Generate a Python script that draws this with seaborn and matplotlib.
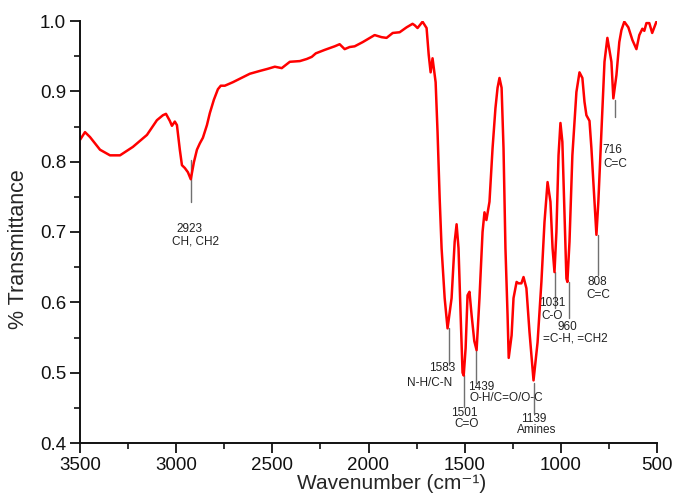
import matplotlib
matplotlib.use("Agg")
import matplotlib.pyplot as plt
from matplotlib.ticker import MultipleLocator
import seaborn as sns
import pandas as pd

# ---- data ----
wavenumber = [3500, 3474, 3448, 3396, 3344, 3292, 3225, 3152, 3100, 3069, 3053, 3033,
              3022, 3007, 2996, 2981, 2970, 2955, 2939, 2924, 2908, 2892, 2877, 2861,
              2840, 2825, 2804, 2783, 2768, 2747, 2705, 2617, 2565, 2524, 2487, 2451,
              2409, 2357, 2321, 2295, 2274, 2227, 2176, 2150, 2124, 2098, 2072, 2030,
              1968, 1932, 1906, 1874, 1838, 1802, 1771, 1760, 1745, 1719, 1698, 1687,
              1677, 1667, 1651, 1641, 1630, 1620, 1604, 1589, 1568, 1552, 1542, 1532,
              1521, 1511, 1505, 1495, 1485, 1475, 1464, 1450, 1438, 1423, 1407, 1397,
              1387, 1371, 1355, 1340, 1329, 1319, 1308, 1298, 1288, 1277, 1271, 1256,
              1246, 1230, 1220, 1205, 1194, 1179, 1163, 1142, 1121, 1101, 1085, 1069,
              1054, 1043, 1033, 1023, 1012, 1002, 992, 981, 971, 966, 955, 940, 919,
              903, 888, 877, 867, 851, 841, 825, 815, 805, 789, 773, 758, 737, 727,
              711, 696, 685, 670, 649, 628, 607, 592, 576, 566, 555, 540, 525, 514, 503]
transmittance = [0.831, 0.842, 0.835, 0.817, 0.809, 0.809, 0.821, 0.838, 0.859, 0.866,
                 0.868, 0.858, 0.851, 0.857, 0.852, 0.817, 0.795, 0.791, 0.785, 0.775,
                 0.799, 0.817, 0.826, 0.834, 0.852, 0.869, 0.888, 0.903, 0.908, 0.908,
                 0.913, 0.925, 0.929, 0.932, 0.935, 0.933, 0.942, 0.943, 0.946, 0.949,
                 0.954, 0.959, 0.964, 0.967, 0.960, 0.963, 0.964, 0.970, 0.980, 0.977,
                 0.976, 0.983, 0.984, 0.991, 0.996, 0.994, 0.990, 0.999, 0.990, 0.952,
                 0.927, 0.947, 0.913, 0.842, 0.748, 0.677, 0.606, 0.563, 0.606, 0.686,
                 0.711, 0.677, 0.582, 0.500, 0.496, 0.535, 0.610, 0.615, 0.582, 0.545,
                 0.532, 0.606, 0.700, 0.728, 0.717, 0.743, 0.819, 0.876, 0.905, 0.919,
                 0.905, 0.819, 0.677, 0.582, 0.521, 0.553, 0.606, 0.629, 0.627, 0.627,
                 0.636, 0.620, 0.558, 0.489, 0.543, 0.629, 0.714, 0.771, 0.743, 0.677,
                 0.643, 0.700, 0.809, 0.855, 0.828, 0.724, 0.634, 0.629, 0.686, 0.809,
                 0.899, 0.927, 0.919, 0.885, 0.866, 0.858, 0.819, 0.743, 0.696, 0.743,
                 0.842, 0.942, 0.976, 0.942, 0.890, 0.923, 0.970, 0.987, 0.999, 0.991,
                 0.973, 0.960, 0.980, 0.989, 0.986, 0.997, 0.997, 0.983, 0.991, 0.999]

peak_labels = ["2923", "1583", "1501", "1439", "1139", "1031", "960", "808", "716"]
peak_groups = ["CH, CH2", "N-H/C-N", "C=O", "O-H/C=O/O-C", "Amines", "C-O",
               "=C-H, =CH2", "C=C", "C=C"]
peak_positions = [2923, 1583, 1501, 1439, 1139, 1031, 960, 808, 716]

# ---- layout of the annotations (line top/bottom, text positions) ----
line_top = [0.802, 0.563, 0.496, 0.532, 0.486, 0.643, 0.629, 0.696, 0.888]
line_bot = [0.743, 0.511, 0.451, 0.485, 0.442, 0.592, 0.578, 0.639, 0.863]
num_xy = [(2929, 0.704), (1615, 0.506), (1500, 0.442), (1412, 0.479), (1142, 0.434),
          (1044, 0.599), (966, 0.565), (810, 0.629), (732, 0.816)]
grp_xy = [(2898, 0.686), (1682, 0.486), (1490, 0.427), (1282, 0.464), (1127, 0.418),
          (1044, 0.580), (924, 0.548), (805, 0.610), (716, 0.797)]

sns.set_style("ticks")
plt.rcParams["font.family"] = ["Liberation Sans", "DejaVu Sans"]

fig = plt.figure(figsize=(6.73, 4.99), dpi=100)
ax = fig.add_axes([80 / 673, 1 - 443 / 499, 577 / 673, 422 / 499])

df = pd.DataFrame({"Wavenumber": wavenumber, "T": transmittance})
sns.lineplot(data=df, x="Wavenumber", y="T", ax=ax, color="#ff0000", lw=1.8,
             estimator=None, sort=True, solid_joinstyle="round",
             solid_capstyle="round")

for xp, yt, yb in zip(peak_positions, line_top, line_bot):
    ax.plot([xp, xp], [yt, yb], color="#707070", lw=1.0, zorder=1)

for lab, grp, (nx, ny), (gx, gy) in zip(peak_labels, peak_groups, num_xy, grp_xy):
    ax.text(nx, ny, lab, ha="center", va="center", fontsize=8.5, color="#222222")
    ax.text(gx, gy, grp, ha="center", va="center", fontsize=8.5, color="#222222")

ax.set_xlim(3500, 500)
ax.set_ylim(0.4, 1.0)
ax.xaxis.set_major_locator(MultipleLocator(500))
ax.xaxis.set_minor_locator(MultipleLocator(250))
ax.yaxis.set_major_locator(MultipleLocator(0.1))
ax.yaxis.set_minor_locator(MultipleLocator(0.05))
ax.yaxis.set_major_formatter(plt.FormatStrFormatter("%.1f"))
ax.tick_params(which="major", direction="out", length=7, width=1.3, labelsize=13.5,
               colors="#111111", pad=3)
ax.tick_params(which="minor", direction="out", length=4, width=1.2, colors="#111111")
sns.despine(ax=ax)
for s in ["left", "bottom"]:
    ax.spines[s].set_linewidth(1.4)
    ax.spines[s].set_color("#111111")

ax.set_xlabel("Wavenumber (cm\u207b\u00b9)", fontsize=15)
ax.set_ylabel("% Transmittance", fontsize=15.5)
ax.yaxis.set_label_coords(-0.088, 0.46)
ax.xaxis.set_label_coords(0.54, -0.074)

fig.savefig("out.png", dpi=100, facecolor="white")
